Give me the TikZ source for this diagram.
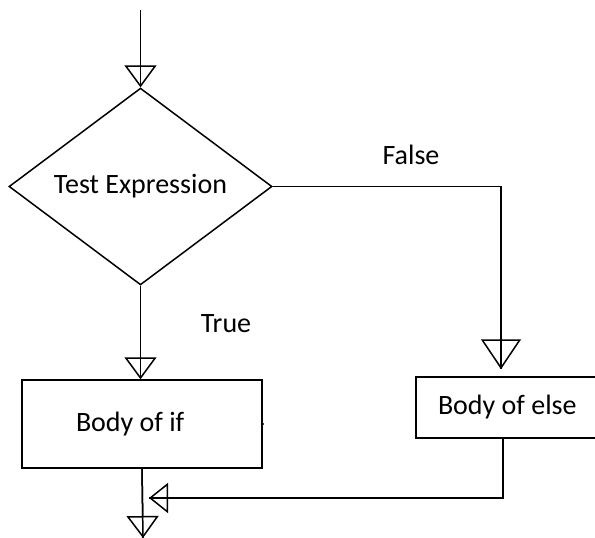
\documentclass[tikz,border=0pt]{standalone}
\usepackage{fontspec}
\setmainfont{Carlito}
\usetikzlibrary{arrows.meta, shapes.geometric}

\tikzset{
  flow/.style={-{Triangle[open, length=22pt, width=32pt]}, postaction={draw, -}},
  box/.style={draw, rectangle, inner ysep=0pt, align=flush left},
  label text/.style={font=\fontsize{28}{34}\selectfont}
}

\begin{document}
\begin{tikzpicture}[x=1pt, y=-1pt, line width=1.5pt]
            % Fix the page to the size of the picture
            \path[use as bounding box, clip] (0,0) rectangle (595,538);

            % Draw the decision
            \node[draw, diamond, inner sep=0pt, minimum width=263pt, minimum height=193pt,
                  label text] (test) at (140.5,186.5) {Test Expression};

            % Draw the two bodies
            \node[box, inner xsep=54pt, text width=132pt, minimum height=88pt, label text] (ifbody) at (142,424) {Body of if};
            \node[box, inner xsep=22pt, text width=166pt, minimum height=61pt, label text] (elsebody) at (521,407.5) {Body of else};

            % Small mark on the right side of the if body
            \fill (ifbody.east) circle (1.3pt);

            % Start and end points
            \coordinate (start) at (140.5,10);
            \coordinate (join) at (149,498);
            \coordinate (stop) at (143,538);

            % Draw the entry arrow
            \draw[flow] (start) -- (test.north);

            % Draw the true branch
            \draw[flow] (test.south) -- (test.south |- ifbody.north);
            \node[label text] (true) at (226,324) {True};

            % Draw the false branch
            \draw[flow, -{Triangle[open, length=30pt, width=40pt]}] (test.east) -| ([xshift=-20pt, yshift=7pt]elsebody.north);
            \node[label text] (false) at (411,155) {False};

            % Draw the way back from the else body
            \draw[flow, -{Triangle[open, length=19pt, width=30pt]}] ([xshift=-18pt]elsebody.south) |- (join);

            % Draw the exit arrow
            \draw[flow] (ifbody.south) -- (stop);
\end{tikzpicture}
\end{document}
